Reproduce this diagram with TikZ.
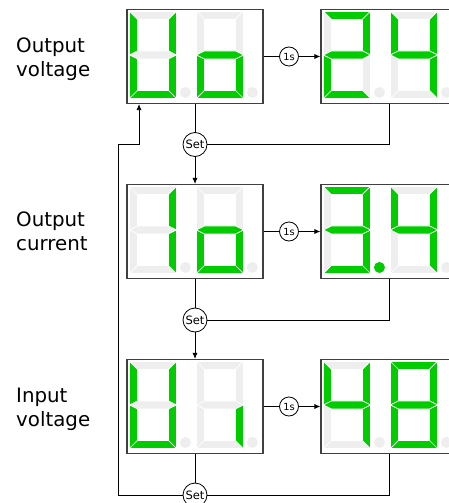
\documentclass[tikz,border=0pt]{standalone}
\usepackage{fontspec}
\setmainfont{DejaVu Sans}
\usepackage{xcolor}
\usetikzlibrary{arrows.meta,positioning}

\definecolor{segon}{RGB}{0,204,0}
\definecolor{segoff}{RGB}{238,238,238}

% segment outlines of one digit, 47 x 87, y pointing down
\newcommand{\sgA}{(0,0) -- (47,0) -- (39,8) -- (8,8) -- cycle}
\newcommand{\sgB}{(47,0) -- (47,43.5) -- (39,39.5) -- (39,8) -- cycle}
\newcommand{\sgC}{(47,43.5) -- (47,87) -- (39,79) -- (39,47.5) -- cycle}
\newcommand{\sgD}{(0,87) -- (8,79) -- (39,79) -- (47,87) -- cycle}
\newcommand{\sgE}{(0,43.5) -- (8,47.5) -- (8,79) -- (0,87) -- cycle}
\newcommand{\sgF}{(0,0) -- (8,8) -- (8,39.5) -- (0,43.5) -- cycle}
\newcommand{\sgG}{(0,43.5) -- (8,39.5) -- (39,39.5) -- (47,43.5) -- (39,47.5) -- (8,47.5) -- cycle}

% one digit: top left corner, lit segments
\newcommand{\digit}[2]{%
  \begin{scope}[shift={#1}]
    \foreach \s in {A,B,C,D,E,F,G} \filldraw[seg, fill=segoff] \csname sg\s\endcsname;
    \foreach \s in {#2} \filldraw[seg, fill=segon] \csname sg\s\endcsname;
  \end{scope}}

% two digits and their dots inside a display box
\newcommand{\readout}[5]{%
  \begin{scope}[shift={(#1.north west)}]
    \digit{(3,2.5)}{#2}
    \fill[#3] (59,83.5) circle (5.5);
    \digit{(70,2.5)}{#4}
    \fill[#5] (126,83.5) circle (5.5);
  \end{scope}}

\begin{document}
\begin{tikzpicture}[x=1pt, y=-1pt,
      disp/.style={draw=black!75, line width=1.1pt, fill=white, minimum width=136, minimum height=94, inner sep=0pt},
      seg/.style={draw=white, line width=0.7pt},
      lbl/.style={anchor=west, align=left, inner sep=0pt, font=\fontsize{19.8}{24}\selectfont},
      tmr/.style={circle, draw, line width=0.8pt, fill=white, minimum size=19, inner sep=0pt, font=\fontsize{9.8}{10}\selectfont},
      setbtn/.style={circle, draw, line width=0.8pt, fill=white, minimum size=24, inner sep=0pt, font=\fontsize{11.5}{12}\selectfont},
      ln/.style={line width=0.8pt},
      arr/.style={-{Latex[length=6pt, width=5pt]}, line width=0.8pt}]
    \clip (0,0) rectangle (449,503);
    % row labels
    \node[lbl] (lbUo) at (16,59.5) {Output\\voltage};
    \node[lbl] (lbIo) at (16,231) {Output\\current};
    \node[lbl] (lbUi) at (16,409.4) {Input\\voltage};
    % display boxes
    \node[disp] (uoL) at (195,56.5) {};
    \node[disp] (uoR) at (389,56.5) {};
    \node[disp] (ioL) at (195,231.5) {};
    \node[disp] (ioR) at (389,231.5) {};
    \node[disp] (uiL) at (195,406.5) {};
    \node[disp] (uiR) at (389,406.5) {};
    \readout{uoL}{B,C,D,E,F}{segoff}{C,D,E,G}{segoff}
    \readout{uoR}{A,B,D,E,G}{segoff}{B,C,F,G}{segoff}
    \readout{ioL}{B,C}{segoff}{C,D,E,G}{segoff}
    \readout{ioR}{A,B,C,D,G}{segon}{B,C,F,G}{segoff}
    \readout{uiL}{B,C,D,E,F}{segoff}{C}{segoff}
    \readout{uiR}{B,C,F,G}{segoff}{A,B,C,D,E,F,G}{segoff}
    % timers and set buttons
    \node[tmr] (t1) at (289,56.5) {1s};
    \node[tmr] (t2) at (289,231.5) {1s};
    \node[tmr] (t3) at (289,406.5) {1s};
    \node[setbtn] (s1) at (195,144.5) {Set};
    \node[setbtn] (s2) at (195,320) {Set};
    \node[setbtn] (s3) at (195,495) {Set};
    \coordinate (fbA) at (118,144.5);
    \coordinate (fbB) at (139,144.5);
    % connectors
    \draw[ln] (uoL) -- (t1);  \draw[arr] (t1) -- (uoR);
    \draw[ln] (ioL) -- (t2);  \draw[arr] (t2) -- (ioR);
    \draw[ln] (uiL) -- (t3);  \draw[arr] (t3) -- (uiR);
    \draw[ln] (uoL) -- (s1);  \draw[ln] (uoR) |- (s1);  \draw[arr] (s1) -- (ioL);
    \draw[ln] (ioL) -- (s2);  \draw[ln] (ioR) |- (s2);  \draw[arr] (s2) -- (uiL);
    \draw[ln] (uiL) -- (s3);  \draw[ln] (uiR) |- (s3);
    \draw[arr] (s3) -| (fbA) -- (fbB) -- (fbB |- uoL.south);
  \end{tikzpicture}
\end{document}
